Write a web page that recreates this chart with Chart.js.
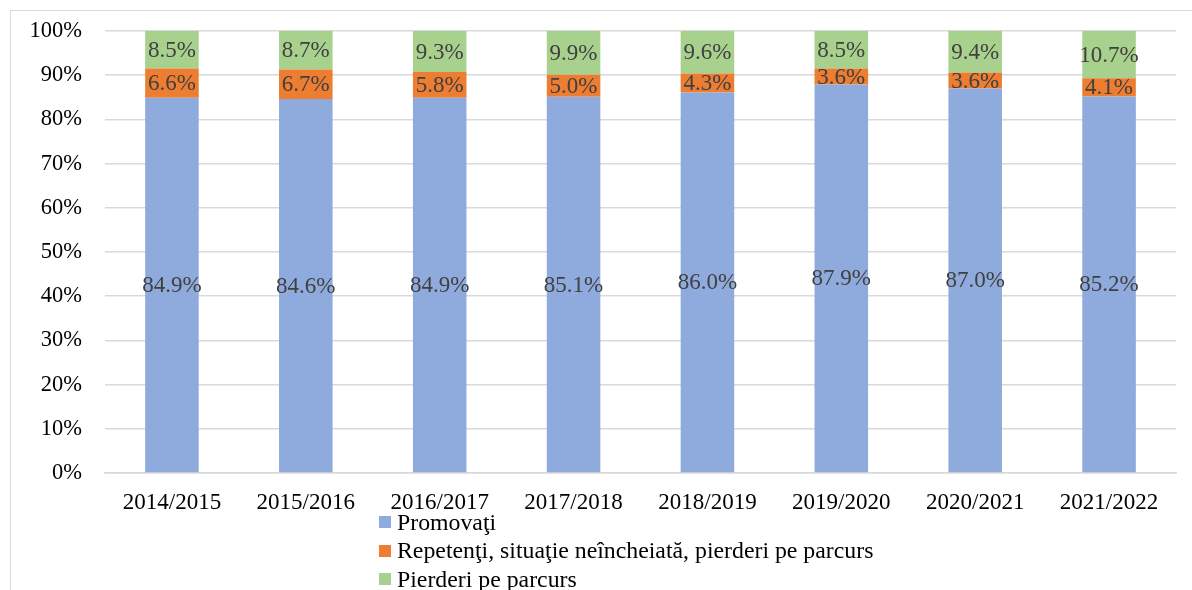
<!DOCTYPE html>
<html>
<head>
<meta charset="utf-8">
<script src="https://cdn.jsdelivr.net/npm/chart.js@4.4.1/dist/chart.umd.min.js"></script>
<style>
  html, body { margin: 0; padding: 0; background: #fff; }
  #wrap { position: relative; width: 1192px; height: 590px; overflow: hidden; }
  #frame { position: absolute; left: 10px; top: 10px; width: 1300px; height: 700px; border: 1.5px solid #d9d9d9; box-sizing: border-box; }
  #chart { position: absolute; left: 0; top: 0; }
  #legend { position: absolute; left: 379px; top: 508px; font-family: "Liberation Serif", "Times New Roman", serif; font-size: 23.8px; color: #000; }
  #legend ul { list-style: none; margin: 0; padding: 0; }
  #legend li { display: flex; align-items: center; height: 28.5px; white-space: nowrap; }
  #legend .swatch { display: inline-block; width: 12px; height: 12px; margin-right: 6px; }
</style>
</head>
<body>
<div id="wrap">
  <div id="frame"></div>
  <canvas id="chart" width="1192" height="590"></canvas>
  <div id="legend"></div>
</div>
<script>
// データ
const years = ["2014/2015", "2015/2016", "2016/2017", "2017/2018", "2018/2019", "2019/2020", "2020/2021", "2021/2022"];
const promovati = [84.9, 84.6, 84.9, 85.1, 86.0, 87.9, 87.0, 85.2];
const repetenti = [6.6, 6.7, 5.8, 5.0, 4.3, 3.6, 3.6, 4.1];
const pierderi = [8.5, 8.7, 9.3, 9.9, 9.6, 8.5, 9.4, 10.7];
const yTicks = [0, 10, 20, 30, 40, 50, 60, 70, 80, 90, 100];

const seriesNames = ["Promovaţi", "Repetenţi, situaţie neîncheiată, pierderi pe parcurs", "Pierderi pe parcurs"];
const seriesColors = ["#8faadc", "#ed7d31", "#a9d18e"];

const FONT = '"Liberation Serif", "Times New Roman", serif';

// 100%積み上げ用に正規化（ラベルは元の値）
const series = [promovati, repetenti, pierderi];
const totals = years.map((_, j) => series.reduce((a, s) => a + s[j], 0));
const toShare = arr => arr.map((v, j) => v / totals[j] * 100);

/* 凡例（縦並び） */
const htmlLegend = {
  id: 'htmlLegend',
  afterUpdate(chart) {
    const box = document.getElementById('legend');
    box.innerHTML = '';
    const ul = document.createElement('ul');
    chart.data.datasets.forEach(ds => {
      const li = document.createElement('li');
      const sw = document.createElement('span');
      sw.className = 'swatch';
      sw.style.background = ds.backgroundColor;
      li.appendChild(sw);
      li.appendChild(document.createTextNode(ds.label));
      ul.appendChild(li);
    });
    box.appendChild(ul);
  }
};

/* 値ラベル */
const barLabels = {
  id: 'barLabels',
  afterDatasetsDraw(chart) {
    const ctx = chart.ctx;
    ctx.save();
    ctx.font = `23px ${FONT}`;
    ctx.fillStyle = '#404040';
    ctx.textAlign = 'center';
    ctx.textBaseline = 'middle';
    chart.data.datasets.forEach((ds, i) => {
      chart.getDatasetMeta(i).data.forEach((bar, j) => {
        const { x, y, base } = bar.getProps(['x', 'y', 'base'], true);
        ctx.fillText(ds.raw[j].toFixed(1) + '%', x, (y + base) / 2 + 1);
      });
    });
    ctx.restore();
  }
};

new Chart(document.getElementById('chart'), {
  type: 'bar',
  data: {
    labels: years,
    datasets: series.map((arr, i) => ({
      label: seriesNames[i],
      data: toShare(arr),
      raw: arr,
      backgroundColor: seriesColors[i],
      barPercentage: 0.8,
      categoryPercentage: 0.5
    }))
  },
  options: {
    responsive: false,
    animation: false,
    layout: { padding: { top: 31, right: 16, bottom: 77, left: 0 } },
    plugins: { legend: { display: false }, tooltip: { enabled: false } },
    scales: {
      x: {
        stacked: true,
        grid: { display: false },
        border: { display: true, color: '#d9d9d9', width: 1.5 },
        ticks: { color: '#000', font: { family: FONT, size: 23 }, padding: 8 },
        afterFit(scale) { scale.height = 40; }
      },
      y: {
        stacked: true,
        min: 0,
        max: 100,
        afterBuildTicks(scale) { scale.ticks = yTicks.map(v => ({ value: v })); },
        grid: { color: '#d9d9d9', lineWidth: 1.5, drawTicks: false },
        border: { display: false },
        ticks: { color: '#000', font: { family: FONT, size: 22.5 }, padding: 23, callback: v => v + '%' },
        afterFit(scale) {
          scale.width = 105;
          scale.paddingTop = 0;
          scale.paddingBottom = 0;
        }
      }
    }
  },
  plugins: [htmlLegend, barLabels]
});
</script>
</body>
</html>
